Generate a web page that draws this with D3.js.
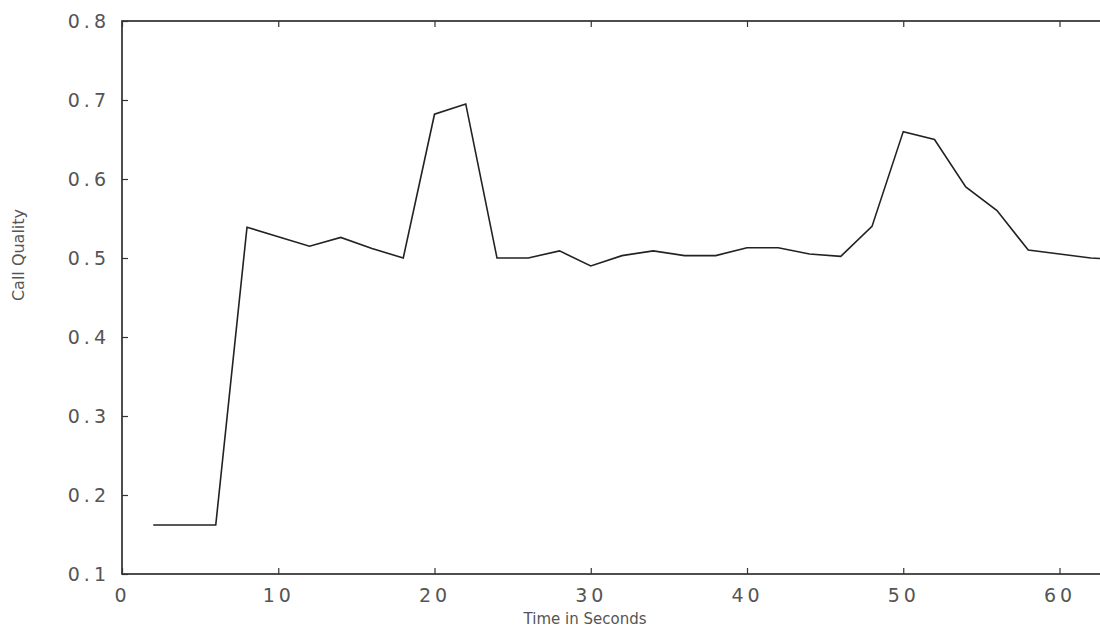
<!DOCTYPE html>
<html><head><meta charset="utf-8">
<script src="https://cdn.jsdelivr.net/npm/d3@7"></script>
<style>body{margin:0;background:#fff}svg{display:block}</style>
</head><body><svg id="c" width="1100" height="635"></svg>
<script>
const timeSec = [2,4,6,8,10,12,14,16,18,20,22,24,26,28,30,32,34,36,38,40,42,44,46,48,50,52,54,56,58,60,62,64];
const callQuality = [0.162,0.162,0.162,0.539,0.527,0.515,0.526,0.512,0.500,0.682,0.695,0.500,0.500,0.509,0.490,0.503,0.509,0.503,0.503,0.513,0.513,0.505,0.502,0.540,0.660,0.650,0.590,0.560,0.510,0.505,0.500,0.498];
const xTicks = [0,10,20,30,40,50,60];
const yTicks = [0.1,0.2,0.3,0.4,0.5,0.6,0.7,0.8];
const yTickLabels = ["0.1","0.2","0.3","0.4","0.5","0.6","0.7","0.8"];
const xLabel = "Time in Seconds";
const yLabel = "Call Quality";

const svg = d3.select("#c");
const L = 122, R = 1122, T = 21, B = 574;
const x = d3.scaleLinear().domain([0,64]).range([L, R]);
const y = d3.scaleLinear().domain([0.1,0.8]).range([B, T]);

const g = svg.append("g");
g.append("rect").attr("x",L).attr("y",T).attr("width",R-L).attr("height",B-T)
  .attr("fill","none").attr("stroke","#222").attr("stroke-width",1.6);

const font = "DejaVu Sans, sans-serif";
const xb = g.append("g").attr("transform",`translate(0,${B})`)
  .call(d3.axisBottom(x).tickValues(xTicks).tickSizeInner(-6).tickSizeOuter(0).tickPadding(11).tickFormat(d3.format("d")));
const xt = g.append("g").attr("transform",`translate(0,${T})`)
  .call(d3.axisTop(x).tickValues(xTicks).tickSizeInner(-6).tickSizeOuter(0).tickFormat(""));
const yl = g.append("g").attr("transform",`translate(${L},0)`)
  .call(d3.axisLeft(y).tickValues(yTicks).tickSizeInner(-6).tickSizeOuter(0).tickPadding(12).tickFormat((d,i)=>yTickLabels[i]));
[xb,xt,yl].forEach(a=>{
  a.select(".domain").remove();
  a.selectAll(".tick line").attr("stroke","#333").attr("stroke-width",1.2);
  a.selectAll(".tick text").attr("font-family",font).attr("font-size",19).attr("fill","#555").attr("letter-spacing","4px");
});
xb.selectAll(".tick text").attr("dy","0.9em");

g.append("path").datum(timeSec.map((t,i)=>[t,callQuality[i]]))
  .attr("fill","none").attr("stroke","#222").attr("stroke-width",1.6)
  .attr("d", d3.line().x(d=>x(d[0])).y(d=>y(d[1])));

g.append("text").attr("x",585).attr("y",624).attr("text-anchor","middle")
  .attr("font-family",font).attr("font-size",15).attr("fill","#555").text(xLabel);
g.append("text").attr("transform","translate(24,255) rotate(-90)").attr("text-anchor","middle")
  .attr("font-family",font).attr("font-size",16).attr("fill","#555").text(yLabel);
</script></body></html>
